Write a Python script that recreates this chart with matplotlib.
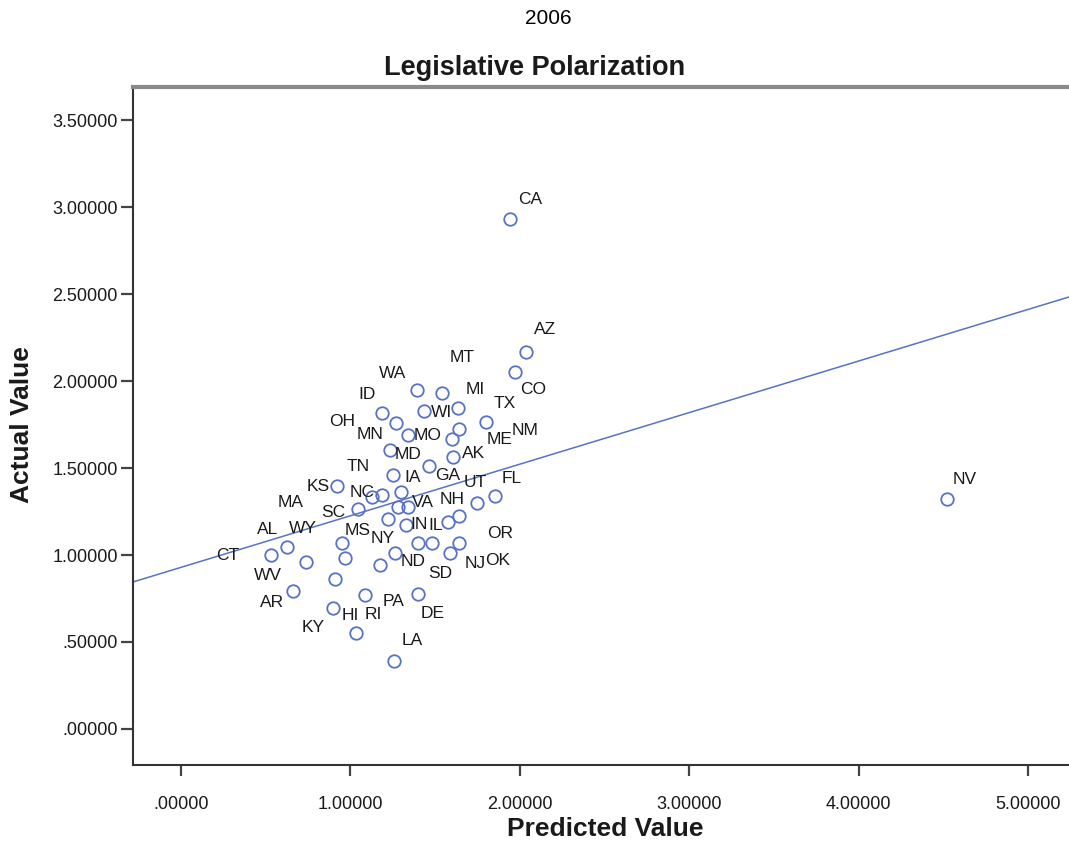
import matplotlib
matplotlib.use("Agg")
import matplotlib.pyplot as plt
import numpy as np
from matplotlib.ticker import FuncFormatter

# values
states = ["CA", "AZ", "CO", "WA", "MT", "MI", "WI", "ID", "TX", "OH",
          "NM", "MO", "ME", "MN", "AK", "GA", "MD", "KS", "NC", "TN",
          "IA", "SC", "FL", "UT", "VA", "NH", "IN", "IL", "OR", "VT",
          "ND", "SD", "OK", "NJ", "NY", "MS", "WY", "CT", "AL", "MA",
          "WV", "AR", "PA", "DE", "RI", "HI", "KY", "LA", "NV"]
predicted = [1.941, 2.035, 1.971, 1.392, 1.540, 1.634, 1.434, 1.186, 1.799, 1.268,
             1.640, 1.339, 1.599, 1.233, 1.605, 1.463, 1.251, 0.920, 1.127, 1.186,
             1.298, 1.044, 1.853, 1.746, 1.280, 1.339, 1.221, 1.327, 1.575, 1.640,
             1.398, 1.481, 1.640, 1.587, 1.263, 0.950, 0.625, 0.531, 0.737, 0.968,
             0.909, 0.661, 1.174, 1.398, 1.032, 0.897, 1.086, 1.257, 4.519]
actual = [2.931, 2.167, 2.052, 1.948, 1.931, 1.845, 1.828, 1.816, 1.764, 1.759,
          1.724, 1.690, 1.667, 1.603, 1.563, 1.511, 1.460, 1.397, 1.333, 1.345,
          1.362, 1.264, 1.339, 1.299, 1.276, 1.276, 1.207, 1.172, 1.190, 1.224,
          1.069, 1.069, 1.069, 1.011, 1.011, 1.069, 1.046, 1.000, 0.960, 0.983,
          0.862, 0.793, 0.943, 0.776, 0.552, 0.695, 0.770, 0.391, 1.322]
fit_intercept = 0.929
fit_slope = 0.2966

x_ticks = [0, 1, 2, 3, 4, 5]
y_ticks = [0.0, 0.5, 1.0, 1.5, 2.0, 2.5, 3.0, 3.5]

# label placement (pixel offsets from the marker, image orientation)
label_offsets = {
    "CA": (20, -20), "AZ": (19, -22), "CO": (18, 18), "WA": (-24, -17),
    "MT": (20, -36), "MI": (17, -18), "WI": (18, 2), "ID": (-15, -19),
    "TX": (19, -19), "OH": (-54, -1), "NM": (66, 1), "MO": (20, 1),
    "ME": (48, 1), "MN": (-20, -16), "AK": (21, -4), "GA": (19, 9),
    "MD": (15, -20), "KS": (-19, 1), "NC": (-10, -5), "TN": (-24, -28),
    "IA": (12, -15), "SC": (-25, 3), "FL": (17, -18), "UT": (-2, -20),
    "VA": (25, -4), "NH": (44, -7), "IN": (31, 6), "IL": (30, 0),
    "OR": (52, 12), "ND": (-5, 18), "SD": (8, 30), "OK": (39, 17),
    "NJ": (25, 10), "NY": (-12, -15), "MS": (16, -13), "WY": (16, -19),
    "CT": (-43, 0), "AL": (-38, -32), "MA": (-54, -55), "WV": (-67, -4),
    "AR": (-21, 11), "PA": (14, 37), "DE": (15, 20), "RI": (17, -18),
    "HI": (17, 7), "KY": (-52, 32), "LA": (18, -20), "NV": (18, -19),
}

BLUE = "#5872C6"
TEXT = "#1a1a1a"

plt.rcParams["font.family"] = ["Liberation Sans", "DejaVu Sans"]

fig = plt.figure(figsize=(10.69, 8.42), dpi=100)
ax = fig.add_axes([133 / 1069, 77 / 842, 936 / 1069, 678 / 842])

xlim = (-0.283, 5.24)
ax.set_xlim(*xlim)
ax.set_ylim(-0.207, 3.69)

ax.plot(predicted, actual, "o", ms=9, mfc="none", mec=BLUE, mew=1.3, zorder=3)
xs = np.array(xlim)
ax.plot(xs, fit_intercept + fit_slope * xs, color=BLUE, lw=1.1, zorder=2)

for st, px, py in zip(states, predicted, actual):
    if st not in label_offsets:
        continue
    dx, dy = label_offsets[st]
    ax.annotate(st, (px, py), xytext=(dx * 0.72, -dy * 0.72),
                textcoords="offset points", ha="center", va="center",
                fontsize=12.5, color=TEXT, zorder=4)

fmt = FuncFormatter(lambda v, _: f"{v:.5f}".lstrip("0") if v < 1 else f"{v:.5f}")
ax.set_xticks(x_ticks)
ax.set_yticks(y_ticks)
ax.xaxis.set_major_formatter(fmt)
ax.yaxis.set_major_formatter(fmt)
ax.tick_params(axis="x", length=8, width=1.6, pad=14, labelsize=13,
               color="#444444", labelcolor=TEXT)
ax.tick_params(axis="y", length=9, width=1.6, pad=2, labelsize=13,
               color="#444444", labelcolor=TEXT)

for side in ("left", "bottom"):
    ax.spines[side].set_color("#333333")
    ax.spines[side].set_linewidth(1.5)
ax.spines["top"].set_color("#8a8a8a")
ax.spines["top"].set_linewidth(3)
ax.spines["right"].set_visible(False)

fig.text(605 / 1069, (842 - 829) / 842, "Predicted Value", ha="center", va="center",
         fontsize=19, fontweight="bold", color=TEXT)
fig.text(22 / 1069, (842 - 425) / 842, "Actual Value", ha="center", va="center",
         rotation=90, fontsize=19, fontweight="bold", color=TEXT)
fig.text(548 / 1069, (842 - 19) / 842, "2006", ha="center", va="center",
         fontsize=15, color="#000000")
fig.text(535 / 1069, (842 - 68) / 842, "Legislative Polarization", ha="center", va="center",
         fontsize=19.5, fontweight="bold", color=TEXT)

fig.savefig("out.png", dpi=100)
